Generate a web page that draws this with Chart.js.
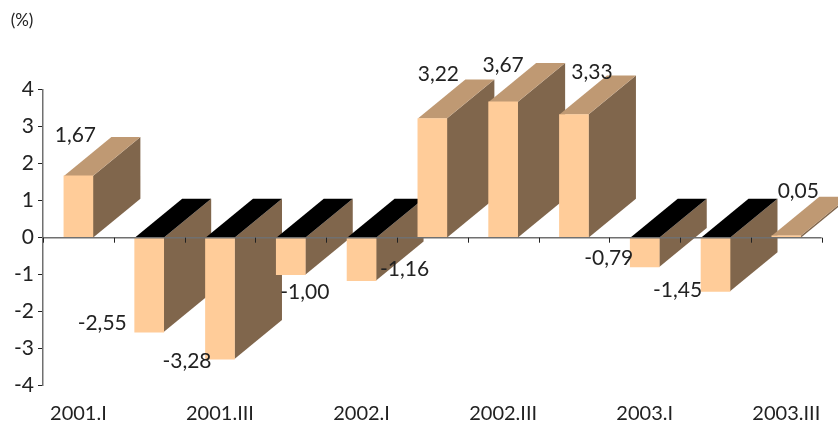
<!DOCTYPE html>
<html lang="en">
<head>
    <meta charset="UTF-8">
    <title>Quarterly change (%)</title>
    <script src="https://cdn.jsdelivr.net/npm/chart.js"></script>
    <style>
        html, body { margin: 0; padding: 0; background: #fff; }
        canvas { display: block; }
    </style>
</head>
<body>
    <canvas id="chart" width="838" height="424"></canvas>
    <script>
// Data
var quarters = ['2001.I', '2001.II', '2001.III', '2001.IV', '2002.I', '2002.II', '2002.III', '2002.IV', '2003.I', '2003.II', '2003.III'];
var values = [1.67, -2.55, -3.28, -1.00, -1.16, 3.22, 3.67, 3.33, -0.79, -1.45, 0.05];

// Value labels were placed by hand in the original, offset from the end of each bar
var labelShiftX = [-3, -47, -33, 14, 43, 6, 0, 18, -36, -38, 12];
var labelShiftY = [-41, -9, 2, 18, -11, -44, -37, -42, -9, -1, -45];

var fontName = 'Lato, sans-serif';
var textColor = '#222222';
var axisColor = '#707070';
var tickColor = '#222222';
var depthX = 47.5;
var depthY = 39;

function polygon(ctx, color, pts) {
    ctx.fillStyle = color;
    ctx.beginPath();
    ctx.moveTo(pts[0], pts[1]);
    for (var i = 2; i < pts.length; i += 2) {
        ctx.lineTo(pts[i], pts[i + 1]);
    }
    ctx.closePath();
    ctx.fill();
}

// Side and top faces of the 3D bars, left to right so later bars cover earlier ones
var depthFaces = {
    id: 'depthFaces',
    beforeDatasetsDraw: function(chart) {
        var ctx = chart.ctx;
        var zero = chart.scales.y.getPixelForValue(0);
        chart.getDatasetMeta(0).data.forEach(function(bar, i) {
            var half = bar.width / 2;
            var left = bar.x - half;
            var right = bar.x + half;
            var end = bar.y;
            var top = Math.min(end, zero);
            polygon(ctx, '#80664c', [right, zero, right + depthX, zero - depthY, right + depthX, end - depthY, right, end]);
            polygon(ctx, values[i] < 0 ? '#000000' : '#bf9973', [left, top, left + depthX, top - depthY, right + depthX, top - depthY, right, top]);
        });
    },
    // zero line with tick marks between the categories, over the bars
    afterDatasetsDraw: function(chart) {
        var ctx = chart.ctx;
        var x = chart.scales.x;
        var zero = chart.scales.y.getPixelForValue(0);
        var step = x.getPixelForValue(1) - x.getPixelForValue(0);
        ctx.save();
        ctx.strokeStyle = axisColor;
        ctx.lineWidth = 1.5;
        ctx.beginPath();
        ctx.moveTo(x.left, zero);
        ctx.lineTo(x.right, zero);
        ctx.stroke();
        ctx.strokeStyle = tickColor;
        ctx.lineWidth = 1;
        ctx.beginPath();
        for (var i = 0; i <= quarters.length; i++) {
            var tx = Math.round(x.getPixelForValue(i) - step / 2) + 0.5;
            ctx.moveTo(tx, zero);
            ctx.lineTo(tx, zero + 5);
        }
        ctx.stroke();
        ctx.restore();
    },
    afterDraw: function(chart) {
        var ctx = chart.ctx;
        ctx.save();
        ctx.fillStyle = textColor;
        ctx.textAlign = 'center';
        ctx.textBaseline = 'middle';
        ctx.font = '21px ' + fontName;
        chart.getDatasetMeta(0).data.forEach(function(bar, i) {
            var text = values[i].toFixed(2).replace('.', ',');
            ctx.fillText(text, bar.x + labelShiftX[i], bar.y + labelShiftY[i]);
        });
        ctx.font = '17px ' + fontName;
        ctx.fillText('(%)', 22, 21);
        ctx.restore();
    }
};

var ctx = document.getElementById('chart').getContext('2d');
var chart = new Chart(ctx, {
    type: 'bar',
    data: {
        labels: quarters,
        datasets: [{
            data: values,
            backgroundColor: '#ffcc99',
            barThickness: 29
        }]
    },
    options: {
        responsive: false,
        animation: false,
        layout: { padding: { left: 0, right: 16.3, top: 89.7, bottom: 0 } },
        plugins: {
            legend: { display: false },
            tooltip: { enabled: false }
        },
        scales: {
            // bottom axis only carries the labels
            x: {
                position: 'bottom',
                grid: { display: false },
                border: { display: false },
                afterFit: function(scale) { scale.height = 38.3; },
                ticks: {
                    autoSkip: false,
                    maxRotation: 0,
                    minRotation: 0,
                    padding: 8,
                    color: textColor,
                    font: { family: fontName, size: 20 },
                    callback: function(value, index) {
                        return index % 2 === 0 ? quarters[index] : '';
                    }
                }
            },
            y: {
                min: -4,
                max: 4,
                z: 1,
                afterFit: function(scale) { scale.width = 43; },
                grid: { drawOnChartArea: false, tickLength: 5, tickColor: tickColor, tickWidth: 1 },
                border: { color: axisColor, width: 1.5 },
                ticks: {
                    stepSize: 1,
                    padding: 4,
                    color: textColor,
                    font: { family: fontName, size: 21 }
                }
            }
        }
    },
    plugins: [depthFaces]
});
    </script>
</body>
</html>
